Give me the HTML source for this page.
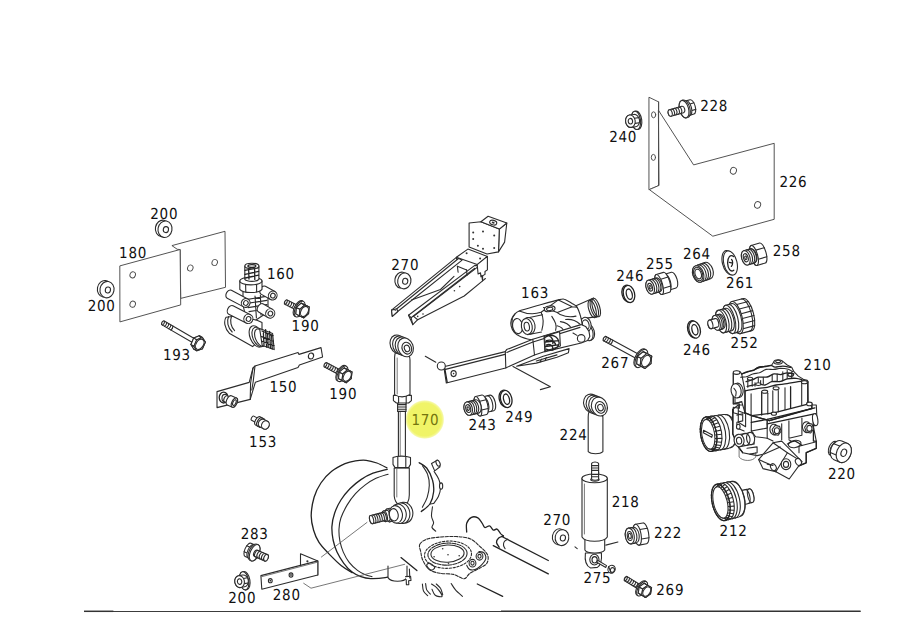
<!DOCTYPE html>
<html lang="en">
<head>
<meta charset="utf-8">
<title>Parts diagram</title>
<style>
html,body{margin:0;padding:0;background:#fff;}
body{width:900px;height:637px;overflow:hidden;}
svg{display:block;}
.p{fill:none;stroke:#2c2c2c;stroke-width:1.1;stroke-linecap:round;stroke-linejoin:round;}
.w{fill:#fff;stroke:#2c2c2c;stroke-width:1.1;stroke-linecap:round;stroke-linejoin:round;}
.t{fill:none;stroke:#555;stroke-width:0.8;stroke-linecap:round;stroke-linejoin:round;}
.k{fill:none;stroke:#222;stroke-width:1.3;stroke-linecap:round;stroke-linejoin:round;}
.d{fill:#333;stroke:none;}
.pl .w,.pl .p{stroke:#4a4a4a;stroke-width:0.95;}
text{font-family:"DejaVu Sans","Liberation Sans",sans-serif;font-size:15px;letter-spacing:0.8px;text-rendering:geometricPrecision;fill:#111;}
</style>
</head>
<body>
<svg width="900" height="637" viewBox="0 0 900 637">
<rect width="900" height="637" fill="#fff"/>
<defs><radialGradient id="yg"><stop offset="0" stop-color="#f0f466"/><stop offset="0.84" stop-color="#f0f468"/><stop offset="0.94" stop-color="#f5f8a0"/><stop offset="1" stop-color="#ffffff"/></radialGradient></defs>
<circle cx="424.8" cy="419.5" r="19.6" fill="url(#yg)"/>
<!-- 05_tank -->
<g>
<path class="k" d="M386.9 467.9 C385.3 467.1 380.4 464.3 376.9 463 C373.5 461.8 369.8 460.7 366.2 460.3 C362.7 460 359 460.3 355.5 460.8 C352 461.4 349 462 345 463.7 C341.1 465.5 335.7 468.1 331.7 471.3 C327.6 474.5 323.9 478.6 320.9 483 C318 487.3 315.7 491.9 314.1 497.3 C312.5 502.8 311.3 510.1 311.2 515.6 C311.1 521.1 312.3 525.8 313.6 530.2 C314.9 534.7 316.5 538.5 319 542.4 C321.5 546.3 325 549.7 328.7 553.6 C332.5 557.5 337.5 562.6 341.4 565.8 C345.3 568.9 350.3 571.5 352.1 572.6"/>
<path class="k" d="M387.2 469.3 C384.8 470 377.4 471.5 373 473.2 C368.7 474.9 364.7 477 360.9 479.6 C357 482.2 353.2 485.4 349.9 488.8 C346.6 492.2 343.5 496 340.9 500 C338.3 504.1 336.1 508.8 334.6 513.2 C333.1 517.6 332.1 522.1 331.9 526.6 C331.7 531 332.3 535.7 333.1 540 C334 544.2 335.2 548.2 337 552.1 C338.8 556 341.3 560 343.8 563.3 C346.3 566.7 349.3 569.9 352.1 572.1 C354.9 574.3 357.8 575.6 360.9 576.7 C364 577.8 366.6 578.5 370.6 578.7 C374.7 578.8 380.4 578.5 385.2 577.7 C390 576.9 397 574.7 399.3 574"/>
<path class="p" d="M388.1 474.2 C386 474.9 379.3 476.8 375.5 478.6 C371.7 480.4 368.6 482.4 365.3 484.9 C361.9 487.4 358.5 490.4 355.5 493.7 C352.5 497 349.7 500.8 347.2 504.9 C344.8 509 342.3 514 340.9 518 C339.5 522.1 339.1 525.1 339 529 C338.8 532.9 339.2 537.3 339.9 541.2 C340.7 545 341.8 548.6 343.3 552.1 C344.9 555.7 346.8 559.3 349.2 562.4 C351.5 565.4 354.9 568.4 357.5 570.4 C360.1 572.4 362.3 573.5 364.8 574.5 C367.2 575.6 370.9 576.4 372.1 576.7"/>
<path class="w" d="M388 566 L388 577.6 C391 582.4 404 582.4 407 577.6 L407 566"/>
<path class="w" d="M405.6 576.6 L410.6 576.2 L411 580.4 L408.6 580.8 L408.8 584.6 L406.4 584.8 L406.2 579.6"/>
<line class="k" x1="401" y1="557.6" x2="416.9" y2="570.6"/>
<line class="p" x1="409.4" y1="569" x2="409.8" y2="578"/>
</g>
<!-- 06_leaders -->
<g>
<line class="t" x1="367" y1="522.4" x2="321.4" y2="557"/>
<path class="t" d="M303.7 583.3 L311 588.2 L404.7 564.3"/>
</g>
<!-- 10_bracket226 -->
<g class="pl">
<polygon class="w" points="649.3,97.4 658.6,101.9 658.6,185.6 649.3,189.6"/>
<polygon class="w" points="658.6,110.5 693.6,164.9 774.2,143.3 774.2,219.3 712.8,236.2 649.3,189.6 658.6,185.6"/>
<line class="p" x1="658.6" y1="101.9" x2="658.6" y2="185.6"/>
<ellipse class="w" cx="653.6" cy="114.8" rx="2.1" ry="3"/>
<ellipse class="w" cx="653.4" cy="157.4" rx="2.1" ry="3"/>
<ellipse class="w" cx="733.4" cy="170.8" rx="3" ry="3.4" transform="rotate(20 733.4 170.8)"/>
<ellipse class="w" cx="757.6" cy="204.9" rx="3" ry="3.4" transform="rotate(20 757.6 204.9)"/>
</g>
<!-- 11_plate180 -->
<g class="pl">
<polygon class="w" points="172.3,245.5 225,231.3 225.5,287.3 180.7,298.4 180.2,249.6 177.6,249.3"/>
<polygon class="w" points="120.2,265.8 180.1,249.5 180.7,304.9 120.3,321.8"/>
<ellipse class="w" cx="132.7" cy="274.8" rx="2.7" ry="3.1" transform="rotate(20 132.7 274.8)"/>
<ellipse class="w" cx="132.7" cy="304.2" rx="2.7" ry="3.1" transform="rotate(20 132.7 304.2)"/>
<ellipse class="w" cx="190.3" cy="268" rx="2.7" ry="3.1" transform="rotate(20 190.3 268)"/>
<ellipse class="w" cx="214.7" cy="262.5" rx="2.7" ry="3.1" transform="rotate(20 214.7 262.5)"/>
</g>
<!-- 12_washers -->
<g>
<g>
<ellipse class="w" cx="162.4" cy="228.4" rx="7" ry="8.3" transform="rotate(10 162.4 228.4)"/>
<ellipse class="w" cx="165" cy="229.2" rx="7" ry="8.3" transform="rotate(10 165 229.2)"/>
<ellipse class="w" cx="165.9" cy="229.6" rx="2.6" ry="3" transform="rotate(10 165.9 229.6)"/>
</g>
<g>
<ellipse class="w" cx="104.4" cy="288.8" rx="7" ry="8.3" transform="rotate(10 104.4 288.8)"/>
<ellipse class="w" cx="107" cy="289.6" rx="7" ry="8.3" transform="rotate(10 107 289.6)"/>
<ellipse class="w" cx="107.9" cy="290" rx="2.6" ry="3" transform="rotate(10 107.9 290)"/>
</g>
<g>
<ellipse class="w" cx="401.5" cy="280.1" rx="6.6" ry="8" transform="rotate(10 401.5 280.1)"/>
<ellipse class="w" cx="404.3" cy="280.9" rx="6.6" ry="8" transform="rotate(10 404.3 280.9)"/>
<ellipse class="w" cx="405.2" cy="281.3" rx="2.6" ry="3" transform="rotate(10 405.2 281.3)"/>
</g>
<g>
<ellipse class="w" cx="559.2" cy="536.8" rx="6.8" ry="8" transform="rotate(10 559.2 536.8)"/>
<ellipse class="w" cx="562" cy="537.6" rx="6.8" ry="8" transform="rotate(10 562 537.6)"/>
<ellipse class="w" cx="562.9" cy="538" rx="2.6" ry="3" transform="rotate(10 562.9 538)"/>
</g>
</g>
<!-- 13_bolts -->
<g>
<g transform="translate(162 322.3) rotate(30.2)">
<path class="w" d="M38 -2.2 L0.8 -2.2 Q-0.9 0 0.8 2.2 L38 2.2"/>
<path class="p" d="M1.8 -2.2 Q3 0 1.8 2.2"/>
<path class="p" d="M4.2 -2.2 Q5.4 0 4.2 2.2"/>
<path class="p" d="M6.6 -2.2 Q7.8 0 6.6 2.2"/>
<path class="p" d="M9 -2.2 Q10.2 0 9 2.2"/>
<path class="p" d="M11.4 -2.2 Q12.6 0 11.4 2.2"/>
<polygon class="w" points="44.7,2.5 40.9,7.1 36.2,4.6 35.3,-2.5 39.1,-7.1 43.9,-4.6"/>
<polygon class="w" points="44.7,2.5 40.9,7.1 44.4,7.1 48.2,2.5"/>
<polygon class="w" points="40.9,7.1 36.2,4.6 39.7,4.6 44.4,7.1"/>
<polygon class="w" points="36.2,4.6 35.3,-2.5 38.8,-2.5 39.7,4.6"/>
<polygon class="w" points="35.3,-2.5 39.1,-7.1 42.6,-7.1 38.8,-2.5"/>
<polygon class="w" points="39.1,-7.1 43.9,-4.6 47.4,-4.6 42.6,-7.1"/>
<polygon class="w" points="43.9,-4.6 44.7,2.5 48.2,2.5 47.4,-4.6"/>
<polygon class="w" points="48.2,2.5 44.4,7.1 39.7,4.6 38.8,-2.5 42.6,-7.1 47.4,-4.6"/>
<ellipse class="p" cx="43.7" cy="0" rx="3.6" ry="5.6"/>
</g>
<g transform="translate(284.8 301.6) rotate(26.7)">
<path class="w" d="M15.8 -2.4 L0.8 -2.4 Q-0.9 0 0.8 2.4 L15.8 2.4"/>
<path class="p" d="M1.8 -2.4 Q3 0 1.8 2.4"/>
<path class="p" d="M4.2 -2.4 Q5.4 0 4.2 2.4"/>
<path class="p" d="M6.6 -2.4 Q7.8 0 6.6 2.4"/>
<path class="p" d="M9 -2.4 Q10.2 0 9 2.4"/>
<path class="p" d="M11.4 -2.4 Q12.6 0 11.4 2.4"/>
<path class="p" d="M13.8 -2.4 Q15 0 13.8 2.4"/>
<ellipse class="w" cx="15.4" cy="0" rx="4.3" ry="8.6"/>
<ellipse class="w" cx="16.6" cy="0" rx="4.3" ry="8.6"/>
<polygon class="w" points="22.6,0 20.2,6 15.4,6 13,0 15.4,-6 20.2,-6"/>
<polygon class="w" points="22.6,0 20.2,6 24.2,6 26.6,0"/>
<polygon class="w" points="20.2,6 15.4,6 19.4,6 24.2,6"/>
<polygon class="w" points="15.4,6 13,0 17,0 19.4,6"/>
<polygon class="w" points="13,0 15.4,-6 19.4,-6 17,0"/>
<polygon class="w" points="15.4,-6 20.2,-6 24.2,-6 19.4,-6"/>
<polygon class="w" points="20.2,-6 22.6,0 26.6,0 24.2,-6"/>
<polygon class="w" points="26.6,0 24.2,6 19.4,6 17,0 19.4,-6 24.2,-6"/>
<ellipse class="p" cx="22" cy="0" rx="3.5" ry="5.4"/>
</g>
<g transform="translate(324.4 364.2) rotate(28)">
<path class="w" d="M19.6 -2.4 L0.8 -2.4 Q-0.9 0 0.8 2.4 L19.6 2.4"/>
<path class="p" d="M1.8 -2.4 Q3 0 1.8 2.4"/>
<path class="p" d="M4.2 -2.4 Q5.4 0 4.2 2.4"/>
<path class="p" d="M6.6 -2.4 Q7.8 0 6.6 2.4"/>
<path class="p" d="M9 -2.4 Q10.2 0 9 2.4"/>
<path class="p" d="M11.4 -2.4 Q12.6 0 11.4 2.4"/>
<path class="p" d="M13.8 -2.4 Q15 0 13.8 2.4"/>
<path class="p" d="M16.2 -2.4 Q17.4 0 16.2 2.4"/>
<ellipse class="w" cx="19.2" cy="0" rx="4.3" ry="8.6"/>
<ellipse class="w" cx="20.4" cy="0" rx="4.3" ry="8.6"/>
<polygon class="w" points="26.4,0 24,6 19.2,6 16.8,0 19.2,-6 24,-6"/>
<polygon class="w" points="26.4,0 24,6 28,6 30.4,0"/>
<polygon class="w" points="24,6 19.2,6 23.2,6 28,6"/>
<polygon class="w" points="19.2,6 16.8,0 20.8,0 23.2,6"/>
<polygon class="w" points="16.8,0 19.2,-6 23.2,-6 20.8,0"/>
<polygon class="w" points="19.2,-6 24,-6 28,-6 23.2,-6"/>
<polygon class="w" points="24,-6 26.4,0 30.4,0 28,-6"/>
<polygon class="w" points="30.4,0 28,6 23.2,6 20.8,0 23.2,-6 28,-6"/>
<ellipse class="p" cx="25.8" cy="0" rx="3.5" ry="5.4"/>
</g>
<g transform="translate(603.6 338) rotate(28.5)">
<path class="w" d="M42.2 -2.5 L0.8 -2.5 Q-0.9 0 0.8 2.5 L42.2 2.5"/>
<path class="p" d="M1.8 -2.5 Q3 0 1.8 2.5"/>
<path class="p" d="M4.2 -2.5 Q5.4 0 4.2 2.5"/>
<path class="p" d="M6.6 -2.5 Q7.8 0 6.6 2.5"/>
<path class="p" d="M9 -2.5 Q10.2 0 9 2.5"/>
<ellipse class="w" cx="41.8" cy="0" rx="5" ry="10"/>
<ellipse class="w" cx="43" cy="0" rx="5" ry="10"/>
<polygon class="w" points="49.8,0 47,6.9 41.4,6.9 38.6,0 41.4,-6.9 47,-6.9"/>
<polygon class="w" points="49.8,0 47,6.9 51,6.9 53.8,0"/>
<polygon class="w" points="47,6.9 41.4,6.9 45.4,6.9 51,6.9"/>
<polygon class="w" points="41.4,6.9 38.6,0 42.6,0 45.4,6.9"/>
<polygon class="w" points="38.6,0 41.4,-6.9 45.4,-6.9 42.6,0"/>
<polygon class="w" points="41.4,-6.9 47,-6.9 51,-6.9 45.4,-6.9"/>
<polygon class="w" points="47,-6.9 49.8,0 53.8,0 51,-6.9"/>
<polygon class="w" points="53.8,0 51,6.9 45.4,6.9 42.6,0 45.4,-6.9 51,-6.9"/>
<ellipse class="p" cx="48.4" cy="0" rx="4" ry="6.2"/>
</g>
<g transform="translate(624.8 578) rotate(31.6)">
<path class="w" d="M19.6 -2.4 L0.8 -2.4 Q-0.9 0 0.8 2.4 L19.6 2.4"/>
<path class="p" d="M1.8 -2.4 Q3 0 1.8 2.4"/>
<path class="p" d="M4.2 -2.4 Q5.4 0 4.2 2.4"/>
<path class="p" d="M6.6 -2.4 Q7.8 0 6.6 2.4"/>
<path class="p" d="M9 -2.4 Q10.2 0 9 2.4"/>
<path class="p" d="M11.4 -2.4 Q12.6 0 11.4 2.4"/>
<path class="p" d="M13.8 -2.4 Q15 0 13.8 2.4"/>
<path class="p" d="M16.2 -2.4 Q17.4 0 16.2 2.4"/>
<ellipse class="w" cx="19.2" cy="0" rx="4.1" ry="8.2"/>
<ellipse class="w" cx="20.4" cy="0" rx="4.1" ry="8.2"/>
<polygon class="w" points="26.2,0 23.9,5.7 19.3,5.7 17,0 19.3,-5.7 23.9,-5.7"/>
<polygon class="w" points="26.2,0 23.9,5.7 27.9,5.7 30.2,0"/>
<polygon class="w" points="23.9,5.7 19.3,5.7 23.3,5.7 27.9,5.7"/>
<polygon class="w" points="19.3,5.7 17,0 21,0 23.3,5.7"/>
<polygon class="w" points="17,0 19.3,-5.7 23.3,-5.7 21,0"/>
<polygon class="w" points="19.3,-5.7 23.9,-5.7 27.9,-5.7 23.3,-5.7"/>
<polygon class="w" points="23.9,-5.7 26.2,0 30.2,0 27.9,-5.7"/>
<polygon class="w" points="30.2,0 27.9,5.7 23.3,5.7 21,0 23.3,-5.7 27.9,-5.7"/>
<ellipse class="p" cx="25.8" cy="0" rx="3.3" ry="5.1"/>
</g>
</g>
<!-- 14_bracket150 -->
<g>
<polygon class="w" points="217,391.6 249.2,382.4 253,368 255,366 298,352.4 299,354.4 321,347.6 322.6,357 299.4,365 298,367.6 255.4,382.2 250.2,399.4 217,407.6"/>
<path class="p" d="M253 368 L250.6 383 L250.2 399.4"/>
<path class="p" d="M255 366 L253.2 381.5 L251.8 390"/>
<ellipse class="w" cx="311" cy="356" rx="2.6" ry="3" transform="rotate(15 311 356)"/>
<ellipse class="k" cx="223.6" cy="397.6" rx="4.4" ry="5.4" style="fill:#fff"/>
<ellipse class="w" cx="225" cy="398.2" rx="3" ry="3.8"/>
<g transform="translate(234.4 402.6) rotate(204)">
<path class="w" d="M9.5 -3.2 A1.6 3.2 0 0 1 9.5 3.2 L6 3.2 A1.6 3.2 0 0 1 6 -3.2 Z"/>
<ellipse class="w" cx="6" cy="0" rx="1.6" ry="3.2"/>
<path class="w" d="M5.6 -5 A2.5 5 0 0 1 5.6 5 L0 5 A2.5 5 0 0 1 0 -5 Z"/>
<ellipse class="w" cx="0" cy="0" rx="2.5" ry="5"/>
<ellipse class="w" cx="0" cy="0" rx="1.5" ry="3"/>
</g>
</g>
<!-- 15_stud153 -->
<g>
<g transform="translate(265.4 425) rotate(208)">
<path class="w" d="M14.4 -2.4 A1.2 2.4 0 0 1 14.4 2.4 L9.6 2.4 A1.2 2.4 0 0 1 9.6 -2.4 Z"/>
<ellipse class="w" cx="9.6" cy="0" rx="1.2" ry="2.4"/>
<path class="w" d="M8.6 -4.7 A2.4 4.7 0 0 1 8.6 4.7 L4.4 4.7 A2.4 4.7 0 0 1 4.4 -4.7 Z"/>
<path class="p" d="M6.4 -4.7 A2.4 4.7 0 0 1 6.4 4.7"/>
<ellipse class="w" cx="4.4" cy="0" rx="2.4" ry="4.7"/>
<path class="w" d="M3.6 -4.3 A3.7 4.3 0 0 1 3.6 4.3 L0 4.3 A3.7 4.3 0 0 1 0 -4.3 Z"/>
<ellipse class="w" cx="0" cy="0" rx="3.7" ry="4.3"/>
</g>
</g>
<!-- 20_valve160 -->
<g>
<path class="w" d="M226.0 317.2 C223.6 321 224.4 328.6 229.6 333.6 L252.6 346.6 L262 338 L262 322.6 L246 315 Z"/>
<path class="p" d="M228.6 316.6 C226.6 321 227.6 327.6 232.2 332.0"/>
<path class="p" d="M231.4 316.8 C229.8 321 230.8 327 234.6 330.6"/>
<ellipse class="w" cx="256.4" cy="336.4" rx="6.4" ry="11.2" transform="rotate(-22 256.4 336.4)"/>
<ellipse class="w" cx="258.4" cy="337" rx="5.6" ry="10.2" transform="rotate(-22 258.4 337)"/>
<ellipse class="w" cx="260.2" cy="337.6" rx="4.8" ry="9.2" transform="rotate(-22 260.2 337.6)"/>
<path class="w" d="M259.6 328.4 L272.6 333.6 L274.2 349.6 L262.2 345.4 Z"/>
<path class="k" d="M262 331 L273 335.6 M261.6 336.6 L273.4 341 M262 341.4 L274 345.6 M265.6 329.6 L266.6 347 M269.6 331.4 L270.4 348.4 M263.4 333 L264 345.4 M267.6 334 L268.2 346.8 M271.6 335 L272.2 349"/>
<path class="w" d="M243 291 L262 291 L268 297 L268 312 L256 320 L246 318 L243 305 Z"/>
<path class="p" d="M246 299.6 L266 296.4 M247 303.4 L267 300.4 M248 307.6 L267 304.6 M249 311.6 L266 308.8 M255 296 L256.4 318 M260.4 295 L261 315"/>
<g transform="translate(263.2 290.2) rotate(29.2)">
<path class="w" d="M10.9 -4.5 L0 -4.5 A3.1 4.5 0 0 0 0 4.5 L10.9 4.5"/>
<ellipse class="w" cx="10.9" cy="0" rx="4.3" ry="4.5"/>
<ellipse class="w" cx="11.1" cy="0" rx="2.3" ry="2.4"/>
</g>
<g transform="translate(261 308) rotate(30.4)">
<path class="w" d="M10.7 -4.7 L0 -4.7 A3.3 4.7 0 0 0 0 4.7 L10.7 4.7"/>
<ellipse class="w" cx="10.7" cy="0" rx="4.5" ry="4.7"/>
<ellipse class="w" cx="10.9" cy="0" rx="2.3" ry="2.4"/>
</g>
<g transform="translate(229.3 294.3) rotate(27.7)">
<path class="w" d="M18.5 -4.5 L0 -4.5 A3.1 4.5 0 0 0 0 4.5 L18.5 4.5"/>
<ellipse class="w" cx="18.5" cy="0" rx="4.3" ry="4.5"/>
<ellipse class="w" cx="18.7" cy="0" rx="2.3" ry="2.4"/>
</g>
<g transform="translate(230.9 310) rotate(27)">
<path class="w" d="M19.6 -4.7 L0 -4.7 A3.3 4.7 0 0 0 0 4.7 L19.6 4.7"/>
<ellipse class="w" cx="19.6" cy="0" rx="4.5" ry="4.7"/>
<ellipse class="w" cx="19.8" cy="0" rx="2.3" ry="2.4"/>
</g>
<path class="w" d="M239.8 281 L239.8 289.4 C243 293.6 258.6 293.6 262 289.4 L262 281 Z"/>
<path class="p" d="M245.6 284.4 L245.8 292 M256.6 284.4 L256.6 292"/>
<ellipse class="w" cx="250.9" cy="281" rx="11.1" ry="3.9"/>
<path class="w" d="M244.8 266 L244.8 279.4 C247 282 257 282 258.9 279.4 L258.9 266 Z"/>
<path class="k" d="M245 270.4 L258.6 267.6 M245 274.4 L258.6 271.4 M245.2 278 L258.6 275.2 M248.6 268 L249 279 M254.6 268 L254.8 279.6"/>
<ellipse class="w" cx="251.9" cy="266" rx="7" ry="2.7"/>
<ellipse class="k" cx="251.9" cy="266" rx="4" ry="1.4"/>
</g>
<!-- 30_arm -->
<g>
<polygon class="w" points="391.5,310.1 456.4,257.4 462.1,260.1 397.7,311.5 392.3,316.4"/>
<polygon class="w" points="391.5,310.1 392.3,316.4 397.7,311.5 396.8,308.7"/>
<line class="p" x1="396.8" y1="308.7" x2="458.5" y2="258.5"/>
<circle class="d" cx="395.2" cy="310.3" r="0.7"/>
<polygon class="w" points="408.5,315.2 474.8,265.4 482.6,266.2 482.6,280.9 464.2,296 417.7,319.7 412.8,324.6"/>
<line class="p" x1="413.6" y1="316.4" x2="477.2" y2="267.4"/>
<line class="p" x1="417.7" y1="319.7" x2="413.6" y2="316.4"/>
<line class="p" x1="412.8" y1="324.6" x2="411.1" y2="317.7"/>
<line class="p" x1="411.1" y1="317.7" x2="408.5" y2="315.2"/>
<line class="p" x1="411.1" y1="317.7" x2="474.8" y2="268.3"/>
<path class="p" d="M411.5 300.1 L440.5 289.5 L454 276.4"/>
<line class="p" x1="457.4" y1="266.2" x2="466.6" y2="269.9"/>
<line class="p" x1="457.4" y1="266.2" x2="458.1" y2="272.3"/>
<line class="p" x1="466.6" y1="269.9" x2="467" y2="275.4"/>
<circle class="d" cx="417.7" cy="316.4" r="0.8"/>
<circle class="d" cx="423" cy="314" r="0.8"/>
<circle class="d" cx="454.4" cy="290.7" r="0.8"/>
<circle class="d" cx="459.7" cy="286.6" r="0.8"/>
<polygon class="w" points="456.4,257.2 467.9,249.1 487.4,256.4 477.2,264.6"/>
<polygon class="w" points="477.2,264.6 487.4,256.4 487.4,269.9 485,271.5 485,274.4 480.9,276.8 480.5,272.8 478.1,274"/>
<line class="p" x1="456.4" y1="257.2" x2="456.6" y2="259.3"/>
<path class="p" d="M481.7 275.4 L482.6 280.9 L485.4 278.5"/>
<circle class="d" cx="466.6" cy="253.2" r="1"/>
<circle class="d" cx="480.1" cy="258.5" r="1"/>
<polygon class="w" points="506.8,223 504.6,242.1 498.5,251.9 499.3,229.1"/>
<polygon class="w" points="469.1,223 480.9,221.7 499.3,229.1 498.5,251.9 487,254 469.1,247"/>
<polygon class="w" points="480.9,221.7 488.1,216.2 506.8,223 499.3,229.1"/>
<ellipse class="w" cx="493.2" cy="222.6" rx="3.6" ry="2.3" transform="rotate(15 493.2 222.6)"/>
<ellipse class="d" cx="493.2" cy="222.6" rx="1.5" ry="1" transform="rotate(15 493.2 222.6)"/>
<circle class="d" cx="473.2" cy="232.6" r="1"/>
<circle class="d" cx="483" cy="231.5" r="1"/>
<circle class="d" cx="494.2" cy="235.6" r="1"/>
<circle class="d" cx="473.2" cy="238.9" r="1"/>
<circle class="d" cx="477.9" cy="245.8" r="1"/>
<circle class="d" cx="483" cy="248.7" r="1"/>
<circle class="d" cx="494.2" cy="247.9" r="1"/>
</g>
<!-- 31_rod170_top -->
<g>
<path class="w" d="M398.4 408 L398.4 458 L405.4 458 L405.4 408 Z"/>
<line class="t" x1="400.2" y1="410" x2="400.2" y2="457"/>
<path class="w" d="M397.6 402 L397.6 411.4 L406 411.4 L406 402 Z"/>
<path class="p" d="M397.6 404.6 L406 404.6 M397.6 407 L406 407 M397.6 409.2 L406 409.2"/>
<path class="w" d="M393.4 395.4 L393.4 400.6 L396.4 403 L408.6 403 L411.4 400.6 L411.4 395.4 Z"/>
<path class="p" d="M398.6 396 L398.6 403 M406.2 396 L406.2 403"/>
<path class="w" d="M394.6 357 C394.6 352 397 350 399 349 L406 352 C409 354 410 357 410 360 L410 394.6 C405 397.4 399 397.4 394.6 394.6 Z"/>
<line class="t" x1="397.2" y1="358" x2="397.2" y2="394"/>
<g>
<ellipse class="w" cx="397.8" cy="344.4" rx="7.6" ry="9.6" transform="rotate(-20 397.8 344.4)"/>
<ellipse class="w" cx="400.4" cy="345.4" rx="7.6" ry="9.6" transform="rotate(-20 400.4 345.4)"/>
<ellipse class="w" cx="403" cy="346.4" rx="7.6" ry="9.6" transform="rotate(-20 403 346.4)"/>
<ellipse class="w" cx="405.6" cy="347.4" rx="7.6" ry="9.6" transform="rotate(-20 405.6 347.4)"/>
<ellipse class="w" cx="406.8" cy="348.2" rx="4.7" ry="6" transform="rotate(-20 406.8 348.2)"/>
<ellipse class="w" cx="407" cy="348.4" rx="2.6" ry="3.3" transform="rotate(-20 407 348.4)"/>
</g>
</g>
<!-- 40_valve163 -->
<g>
<path class="w" d="M 574.3 306.4 L 593.6 298.1 L 598.8 316.4 L 581.2 318.9 Z"/>
<ellipse class="w" cx="596.2" cy="307.5" rx="3.5" ry="9.6" transform="rotate(-17 596.2 307.5)"/>
<ellipse class="p" cx="594.3" cy="308.1" rx="3.4" ry="9.4" transform="rotate(-17 594.3 308.1)"/>
<ellipse class="p" cx="592.2" cy="309" rx="3.4" ry="9" transform="rotate(-17 592.2 309)"/>
<ellipse class="w" cx="589.1" cy="332" rx="5.2" ry="8.4" transform="rotate(-15 589.1 332)"/>
<ellipse class="w" cx="587.7" cy="332.5" rx="5.2" ry="8.4" transform="rotate(-15 587.7 332.5)"/>
<ellipse class="w" cx="585.8" cy="324.4" rx="5.2" ry="7.2" transform="rotate(-15 585.8 324.4)"/>
<ellipse class="w" cx="585.8" cy="324.6" rx="3.2" ry="4.8" transform="rotate(-15 585.8 324.6)"/>
<path class="w" d="M511.1 325.8 C510.7 324.2 511 320.9 511.4 319.5 C511.8 318.2 513.9 315 514.9 314 C515.8 313 516.4 312 519.3 310.9 C522.2 309.9 535.2 306.3 539.7 305 C544.3 303.7 555.5 300.5 558.4 299.9 C561.2 299.2 562.6 298.7 564.2 299.2 C565.9 299.6 571 302.7 572.5 303.7 C574 304.6 576.1 305.7 577 307.1 C578 308.6 579.9 314 580.5 316.1 C581.1 318.2 582.1 323.7 582.2 325.1 C582.3 326.5 584.1 327.1 581.2 328.2 C578.2 329.3 562.6 333.1 557 334.4 C551.4 335.7 537 339.3 532.8 339.6 C528.6 339.9 522.9 337.6 520.7 336.8 C518.6 336 515.6 334 514.5 332.7 C513.4 331.4 511.4 327.3 511.1 325.8 Z"/>
<path class="p" d="M 519.3 310.9 C 525.9 313.7 534.5 314.4 541.1 312.3 L 558.4 299.9"/>
<path class="p" d="M 558.4 299.9 L 572.2 306.8 L 577 307.1 M 572.2 306.8 L 557.3 312.6 L 543.5 307.5"/>
<path class="p" d="M 557.3 312.6 C 560.8 316.1 569.1 317.8 576 316.1"/>
<path class="p" d="M 541.1 312.3 C 543.5 317.5 543.5 324.7 541.8 330.3"/>
<path class="p" d="M 551.8 316.4 C 555.6 322.3 557 325.1 555.6 330.3"/>
<path class="p" d="M 565.6 319.5 C 570.8 318.9 576 320.6 579.8 324 M 560.4 321.6 C 565.6 322.3 569.1 324.4 571.5 328.2 M 557 325.8 C 560.4 326.5 563.2 328.5 564.2 332"/>
<path class="p" d="M 514.9 314 C 511.4 317.8 510.7 325.1 514.5 332.3"/>
<path class="p" d="M 525.9 318.2 L 542.5 314.7 M 527.6 334.7 L 541.5 332"/>
<ellipse class="w" cx="549.7" cy="308.8" rx="5.4" ry="2.8" transform="rotate(-8 549.7 308.8)"/>
<ellipse class="w" cx="549.7" cy="309" rx="3.2" ry="1.6" transform="rotate(-8 549.7 309)"/>
<ellipse class="w" cx="517.6" cy="326.1" rx="5" ry="7.6" transform="rotate(-10 517.6 326.1)"/>
<ellipse class="w" cx="529" cy="325.8" rx="6" ry="8.4" transform="rotate(-10 529 325.8)"/>
<ellipse class="w" cx="526.8" cy="326.5" rx="5.4" ry="8" transform="rotate(-10 526.8 326.5)"/>
<ellipse class="w" cx="526.8" cy="326.6" rx="2.6" ry="4.4" transform="rotate(-10 526.8 326.6)"/>
</g>
<!-- 41_lever -->
<g>
<path class="w" d="M 516.6 366.2 L 543.2 356.2 L 569.1 348.6 L 568.4 352.7 L 557 357.2 L 536.3 363.1 Z"/>
<path class="p" d="M 536.3 361 L 557 354.9 M 540.1 362 L 541.5 359.3 M 545.3 360.3 L 546.3 357.5"/>
<polygon class="w" points="443.8,366.7 505.3,351.6 506.6,349.6 532.8,339.2 581,324.6 585.6,326.4 589,331.4 589.8,336.4 587.6,340.6 581.2,343 544.9,351.6 534.5,355 505.6,368 446.3,383"/>
<path class="p" d="M505.3 351.6 L505.8 368 M532.8 339.2 L534.5 355 M544 335.8 L544.9 351.6"/>
<path class="p" d="M445.4 369.4 L505 354.4 M506.8 352.4 L533 342 L580 327.4"/>
<path class="k" d="M444.6 367.6 L447.2 382.4"/>
<ellipse class="w" cx="453.6" cy="373.6" rx="2.6" ry="3"/>
<circle class="d" cx="453.6" cy="373.6" r="0.8"/>
<circle class="w" cx="581.2" cy="338.4" r="3.8"/>
<path class="p" d="M573 333 L577 335.4"/>
<path class="w" d="M 544.6 336.1 L 559.6 331.6 L 560.4 346.1 L 545.3 351.3 Z"/>
<path class="k" d="M 545.3 337.2 C 551.8 332.7 558.4 336.8 559.1 343 C 558.7 348.2 551.8 352 546.3 349.2 M 546.3 340.6 C 551.8 338.9 555.3 342 555.6 345.4 M 546.6 344.8 C 550.9 343.7 553.5 346.3 552.7 349.6 M 548.7 335.4 C 551.8 337.2 553.5 340.3 552.8 343.7 M 545.3 342 L 558.7 340.6 M 545.6 346.5 L 558 344.8"/>
<circle class="w" cx="441.3" cy="366" r="4"/>
<line class="p" x1="425.3" y1="356.3" x2="435.8" y2="362.2"/>
<path class="p" d="M513 366.4 L550.4 386.8 L540.4 389.6"/>
</g>
<!-- 50_fittings -->
<g>
<g transform="translate(468.2 408.6) rotate(-13.5)">
<path class="w" d="M24.4 -8 A3.4 8 0 0 1 24.4 8 L17.4 8 A3.4 8 0 0 1 17.4 -8 Z"/>
<path class="p" d="M21.5 -8 A3.4 8 0 0 1 21.5 8"/>
<ellipse class="w" cx="17.4" cy="0" rx="3.4" ry="8"/>
<path class="w" d="M16.6 -10 A3.2 10 0 0 1 16.6 10 L10 10 A3.2 10 0 0 1 10 -10 Z"/>
<line class="p" x1="12.9" y1="-4.4" x2="19.5" y2="-4.4"/>
<line class="p" x1="12.8" y1="4.6" x2="19.4" y2="4.6"/>
<ellipse class="w" cx="10" cy="0" rx="3.2" ry="10"/>
<path class="w" d="M9 -6.8 A4.1 6.8 0 0 1 9 6.8 L0 6.8 A4.1 6.8 0 0 1 0 -6.8 Z"/>
<path class="p" d="M2.2 -6.8 A4.1 6.8 0 0 1 2.2 6.8"/>
<path class="p" d="M4.4 -6.8 A4.1 6.8 0 0 1 4.4 6.8"/>
<path class="p" d="M6.4 -6.8 A4.1 6.8 0 0 1 6.4 6.8"/>
<ellipse class="w" cx="0" cy="0" rx="4.1" ry="6.8"/>
<ellipse class="w" cx="0" cy="0" rx="2.4" ry="4"/>
<ellipse class="w" cx="0" cy="0" rx="1.1" ry="1.8"/>
</g>
<g>
<ellipse class="k" cx="504.9" cy="398.7" rx="5.6" ry="8.7" transform="rotate(-14 504.9 398.7)" style="fill:#fff"/>
<ellipse class="k" cx="506.2" cy="399" rx="5.6" ry="8.7" transform="rotate(-14 506.2 399)" style="fill:#fff"/>
<ellipse class="k" cx="506.5" cy="399.2" rx="2.9" ry="5.3" transform="rotate(-14 506.5 399.2)" style="fill:#fff"/>
</g>
<g>
<ellipse class="k" cx="627.7" cy="293.7" rx="5.6" ry="8.7" transform="rotate(-14 627.7 293.7)" style="fill:#fff"/>
<ellipse class="k" cx="629" cy="294" rx="5.6" ry="8.7" transform="rotate(-14 629 294)" style="fill:#fff"/>
<ellipse class="k" cx="629.3" cy="294.2" rx="2.9" ry="5.3" transform="rotate(-14 629.3 294.2)" style="fill:#fff"/>
</g>
<g>
<ellipse class="k" cx="693.3" cy="329.3" rx="5.6" ry="8.7" transform="rotate(-14 693.3 329.3)" style="fill:#fff"/>
<ellipse class="k" cx="694.6" cy="329.6" rx="5.6" ry="8.7" transform="rotate(-14 694.6 329.6)" style="fill:#fff"/>
<ellipse class="k" cx="694.9" cy="329.8" rx="2.9" ry="5.3" transform="rotate(-14 694.9 329.8)" style="fill:#fff"/>
</g>
<g transform="translate(650.2 287.2) rotate(-16.7)">
<path class="w" d="M24.6 -8.2 A3.4 8.2 0 0 1 24.6 8.2 L17.6 8.2 A3.4 8.2 0 0 1 17.6 -8.2 Z"/>
<ellipse class="w" cx="17.6" cy="0" rx="3.4" ry="8.2"/>
<path class="w" d="M17 -10.4 A3.3 10.4 0 0 1 17 10.4 L9.4 10.4 A3.3 10.4 0 0 1 9.4 -10.4 Z"/>
<line class="p" x1="12.4" y1="-4.6" x2="20" y2="-4.6"/>
<line class="p" x1="12.4" y1="4.8" x2="20" y2="4.8"/>
<ellipse class="w" cx="9.4" cy="0" rx="3.3" ry="10.4"/>
<path class="w" d="M8 -7.2 A4 7.2 0 0 1 8 7.2 L0 7.2 A4 7.2 0 0 1 0 -7.2 Z"/>
<path class="p" d="M2.4 -7.2 A4 7.2 0 0 1 2.4 7.2"/>
<path class="p" d="M4.6 -7.2 A4 7.2 0 0 1 4.6 7.2"/>
<path class="p" d="M6.6 -7.2 A4 7.2 0 0 1 6.6 7.2"/>
<ellipse class="w" cx="0" cy="0" rx="4" ry="7.2"/>
<ellipse class="w" cx="0" cy="0" rx="2.2" ry="4"/>
<ellipse class="w" cx="0" cy="0" rx="1" ry="1.8"/>
</g>
<g transform="translate(745.8 257.8) rotate(-16)">
<path class="w" d="M17.4 -10.4 A3.5 10.4 0 0 1 17.4 10.4 L8.6 10.4 A3.5 10.4 0 0 1 8.6 -10.4 Z"/>
<line class="p" x1="11.8" y1="-4.6" x2="20.6" y2="-4.6"/>
<line class="p" x1="11.7" y1="4.8" x2="20.5" y2="4.8"/>
<ellipse class="w" cx="8.6" cy="0" rx="3.5" ry="10.4"/>
<path class="w" d="M7 -7.4 A4.1 7.4 0 0 1 7 7.4 L0 7.4 A4.1 7.4 0 0 1 0 -7.4 Z"/>
<path class="p" d="M2.4 -7.4 A4.1 7.4 0 0 1 2.4 7.4"/>
<path class="p" d="M4.6 -7.4 A4.1 7.4 0 0 1 4.6 7.4"/>
<path class="p" d="M6.4 -7.4 A4.1 7.4 0 0 1 6.4 7.4"/>
<ellipse class="w" cx="0" cy="0" rx="4.1" ry="7.4"/>
<ellipse class="w" cx="0" cy="0" rx="2.3" ry="4.2"/>
<ellipse class="w" cx="0" cy="0" rx="1" ry="1.8"/>
</g>
<g transform="translate(698.2 274) rotate(-20)">
<path class="w" d="M10 -8.6 A5.3 8.6 0 0 1 10 8.6 L0 8.6 A5.3 8.6 0 0 1 0 -8.6 Z"/>
<path class="p" d="M2.4 -8.6 A5.3 8.6 0 0 1 2.4 8.6"/>
<path class="p" d="M4.8 -8.6 A5.3 8.6 0 0 1 4.8 8.6"/>
<path class="p" d="M7.2 -8.6 A5.3 8.6 0 0 1 7.2 8.6"/>
<ellipse class="w" cx="0" cy="0" rx="5.3" ry="8.6"/>
<ellipse class="w" cx="0" cy="0" rx="4.3" ry="7"/>
<ellipse class="w" cx="0" cy="0" rx="3.1" ry="5"/>
</g>
<ellipse class="w" cx="729" cy="262.6" rx="6.6" ry="12.4" transform="rotate(-14 729 262.6)"/>
<ellipse class="w" cx="730.4" cy="263" rx="6.6" ry="12.4" transform="rotate(-14 730.4 263)"/>
<path class="k" d="M733.6 256.6 C730.6 253.6 727.4 257.6 727.6 263 C727.8 268.6 730.6 272.6 733.8 270.2 M731.6 259.4 C733 260.6 733 264.6 731.4 266.4 M729.4 262.4 L731.6 262.8"/>
<g transform="translate(710.4 324.4) rotate(-14.8)">
<path class="w" d="M38.5 -16.6 A6 16.6 0 0 1 38.5 16.6 L26.6 16.6 A6 16.6 0 0 1 26.6 -16.6 Z"/>
<line class="p" x1="30.5" y1="-12.5" x2="42.4" y2="-12.5"/>
<line class="p" x1="31.9" y1="-7.5" x2="43.8" y2="-7.5"/>
<line class="p" x1="32.5" y1="-2.5" x2="44.4" y2="-2.5"/>
<line class="p" x1="32.5" y1="2.5" x2="44.4" y2="2.5"/>
<line class="p" x1="31.9" y1="7.5" x2="43.8" y2="7.5"/>
<line class="p" x1="30.5" y1="12.5" x2="42.4" y2="12.5"/>
<path class="p" d="M36.4 -16.6 A6 16.6 0 0 1 36.4 16.6"/>
<ellipse class="w" cx="26.6" cy="0" rx="6" ry="16.6"/>
<path class="w" d="M26 -14.6 A5.5 14.6 0 0 1 26 14.6 L19.6 14.6 A5.5 14.6 0 0 1 19.6 -14.6 Z"/>
<path class="p" d="M22.6 -14.6 A5.5 14.6 0 0 1 22.6 14.6"/>
<ellipse class="w" cx="19.6" cy="0" rx="5.5" ry="14.6"/>
<path class="w" d="M19 -11.6 A4.9 11.6 0 0 1 19 11.6 L11 11.6 A4.9 11.6 0 0 1 11 -11.6 Z"/>
<path class="p" d="M13.6 -11.6 A4.9 11.6 0 0 1 13.6 11.6"/>
<path class="p" d="M16.4 -11.6 A4.9 11.6 0 0 1 16.4 11.6"/>
<ellipse class="w" cx="11" cy="0" rx="4.9" ry="11.6"/>
<path class="w" d="M11 -7.6 A3.8 7.6 0 0 1 11 7.6 L6 7.6 A3.8 7.6 0 0 1 6 -7.6 Z"/>
<path class="p" d="M8 -7.6 A3.8 7.6 0 0 1 8 7.6"/>
<path class="p" d="M9.6 -7.6 A3.8 7.6 0 0 1 9.6 7.6"/>
<ellipse class="w" cx="6" cy="0" rx="3.8" ry="7.6"/>
<path class="w" d="M6 -4.4 A2.4 4.4 0 0 1 6 4.4 L0 4.4 A2.4 4.4 0 0 1 0 -4.4 Z"/>
<ellipse class="w" cx="0" cy="0" rx="2.4" ry="4.4"/>
</g>
</g>
<!-- 51_nuts -->
<g>
<g transform="translate(843.8 452.8) rotate(202.6)">
<path class="w" d="M11.4 -7.4 A4.4 7.4 0 0 1 11.4 7.4 L8 7.4 A4.4 7.4 0 0 1 8 -7.4 Z"/>
<path class="p" d="M9.6 -7.4 A4.4 7.4 0 0 1 9.6 7.4"/>
<ellipse class="w" cx="8" cy="0" rx="4.4" ry="7.4"/>
<path class="w" d="M6.4 -10.2 A7.1 10.2 0 0 1 6.4 10.2 L0 10.2 A7.1 10.2 0 0 1 0 -10.2 Z"/>
<line class="p" x1="6.2" y1="-5" x2="12.6" y2="-5"/>
<line class="p" x1="6.4" y1="4.6" x2="12.8" y2="4.6"/>
<ellipse class="w" cx="0" cy="0" rx="7.1" ry="10.2"/>
<ellipse class="w" cx="0" cy="0" rx="2.7" ry="3.8"/>
</g>
<g transform="translate(629.8 536) rotate(-10)">
<path class="w" d="M15.2 -10.6 A3.8 10.6 0 0 1 15.2 10.6 L7.6 10.6 A3.8 10.6 0 0 1 7.6 -10.6 Z"/>
<line class="p" x1="11" y1="-4.6" x2="18.6" y2="-4.6"/>
<line class="p" x1="11" y1="5" x2="18.6" y2="5"/>
<ellipse class="w" cx="7.6" cy="0" rx="3.8" ry="10.6"/>
<path class="w" d="M5 -8 A4.4 8 0 0 1 5 8 L0 8 A4.4 8 0 0 1 0 -8 Z"/>
<path class="p" d="M2.6 -8 A4.4 8 0 0 1 2.6 8"/>
<ellipse class="w" cx="0" cy="0" rx="4.4" ry="8"/>
<ellipse class="w" cx="0" cy="0" rx="2.5" ry="4.6"/>
<ellipse class="w" cx="0" cy="0" rx="1.4" ry="2.6"/>
</g>
<g transform="translate(630.4 121.2) rotate(-8)">
<path class="w" d="M6.8 -9.2 A4.6 9.2 0 0 1 6.8 9.2 L5.6 9.2 A4.6 9.2 0 0 1 5.6 -9.2 Z"/>
<ellipse class="w" cx="5.6" cy="0" rx="4.6" ry="9.2"/>
<path class="w" d="M4.4 -6.2 A4.8 6.2 0 0 1 4.4 6.2 L0 6.2 A4.8 6.2 0 0 1 0 -6.2 Z"/>
<line class="p" x1="4.5" y1="-2.4" x2="8.9" y2="-2.4"/>
<line class="p" x1="4.3" y1="2.8" x2="8.7" y2="2.8"/>
<ellipse class="w" cx="0" cy="0" rx="4.8" ry="6.2"/>
<ellipse class="w" cx="0" cy="0" rx="2.2" ry="2.8"/>
</g>
<g transform="translate(239.6 581.6) rotate(-10)">
<path class="w" d="M5.8 -9.2 A4.6 9.2 0 0 1 5.8 9.2 L4.6 9.2 A4.6 9.2 0 0 1 4.6 -9.2 Z"/>
<ellipse class="w" cx="4.6" cy="0" rx="4.6" ry="9.2"/>
<path class="w" d="M4 -6 A4.8 6 0 0 1 4 6 L0 6 A4.8 6 0 0 1 0 -6 Z"/>
<line class="p" x1="4.4" y1="-2.4" x2="8.4" y2="-2.4"/>
<line class="p" x1="4.2" y1="2.8" x2="8.2" y2="2.8"/>
<ellipse class="w" cx="0" cy="0" rx="4.8" ry="6"/>
<ellipse class="w" cx="0" cy="0" rx="2.2" ry="2.8"/>
</g>
<g transform="translate(670.2 113) rotate(-15.6)">
<path class="w" d="M22.6 -7.4 A3.3 7.4 0 0 1 22.6 7.4 L18.6 7.4 A3.3 7.4 0 0 1 18.6 -7.4 Z"/>
<line class="p" x1="21.6" y1="-3.4" x2="25.6" y2="-3.4"/>
<line class="p" x1="21.6" y1="3.4" x2="25.6" y2="3.4"/>
<ellipse class="w" cx="18.6" cy="0" rx="3.3" ry="7.4"/>
<path class="w" d="M15.8 -9 A4.5 9 0 0 1 15.8 9 L14.4 9 A4.5 9 0 0 1 14.4 -9 Z"/>
<ellipse class="w" cx="14.4" cy="0" rx="4.5" ry="9"/>
<path class="w" d="M13 -3.3 A2 3.3 0 0 1 13 3.3 L0 3.3 A2 3.3 0 0 1 0 -3.3 Z"/>
<path class="p" d="M2.4 -3.3 A2 3.3 0 0 1 2.4 3.3"/>
<path class="p" d="M4.9 -3.3 A2 3.3 0 0 1 4.9 3.3"/>
<path class="p" d="M7.4 -3.3 A2 3.3 0 0 1 7.4 3.3"/>
<path class="p" d="M9.9 -3.3 A2 3.3 0 0 1 9.9 3.3"/>
<ellipse class="w" cx="0" cy="0" rx="2" ry="3.3"/>
</g>
<g transform="translate(266 557.8) rotate(203.8)">
<path class="w" d="M19.6 -7.2 A3.2 7.2 0 0 1 19.6 7.2 L16.4 7.2 A3.2 7.2 0 0 1 16.4 -7.2 Z"/>
<line class="p" x1="19.3" y1="-3.2" x2="22.5" y2="-3.2"/>
<line class="p" x1="19.3" y1="3.2" x2="22.5" y2="3.2"/>
<ellipse class="w" cx="16.4" cy="0" rx="3.2" ry="7.2"/>
<path class="w" d="M13.8 -8.8 A4.4 8.8 0 0 1 13.8 8.8 L12.4 8.8 A4.4 8.8 0 0 1 12.4 -8.8 Z"/>
<ellipse class="w" cx="12.4" cy="0" rx="4.4" ry="8.8"/>
<path class="w" d="M11 -3.5 A2.1 3.5 0 0 1 11 3.5 L0 3.5 A2.1 3.5 0 0 1 0 -3.5 Z"/>
<path class="p" d="M2.4 -3.5 A2.1 3.5 0 0 1 2.4 3.5"/>
<path class="p" d="M4.9 -3.5 A2.1 3.5 0 0 1 4.9 3.5"/>
<path class="p" d="M7.4 -3.5 A2.1 3.5 0 0 1 7.4 3.5"/>
<path class="p" d="M9.9 -3.5 A2.1 3.5 0 0 1 9.9 3.5"/>
<ellipse class="w" cx="0" cy="0" rx="2.1" ry="3.5"/>
</g>
</g>
<!-- 60_shock -->
<g>
<path class="w" d="M588.2 417 C588.2 412 590 409 592.6 407.4 L599.6 410.6 C602 412.6 602.9 414.6 602.9 417.4 L602.9 451.6 C600 454.4 591.2 454.4 588.2 451.6 Z"/>
<g>
<ellipse class="w" cx="591.6" cy="403.6" rx="7.8" ry="9.6" transform="rotate(-20 591.6 403.6)"/>
<ellipse class="w" cx="594.2" cy="404.6" rx="7.8" ry="9.6" transform="rotate(-20 594.2 404.6)"/>
<ellipse class="w" cx="596.8" cy="405.6" rx="7.8" ry="9.6" transform="rotate(-20 596.8 405.6)"/>
<ellipse class="w" cx="599.4" cy="406.6" rx="7.8" ry="9.6" transform="rotate(-20 599.4 406.6)"/>
<ellipse class="w" cx="600.3" cy="407.4" rx="4.8" ry="6" transform="rotate(-20 600.3 407.4)"/>
<ellipse class="w" cx="600.5" cy="407.6" rx="2.7" ry="3.3" transform="rotate(-20 600.5 407.6)"/>
</g>
<path class="w" d="M591.6 463.4 L591.6 479 L598.6 479 L598.6 463.4 C597 461.6 593 461.6 591.6 463.4 Z"/>
<path class="p" d="M591.6 465.6 L598.6 465.6 M591.6 468 L598.6 468 M591.6 470.4 L598.6 470.4 M591.6 472.8 L598.6 472.8 M591.6 475.2 L598.6 475.2 M591.6 477.4 L598.6 477.4"/>
<path class="w" d="M585.4 553 C584.6 560 586 566 590.6 568 L597.4 567.4 C601 565 602 560 601.4 553 Z"/>
<ellipse class="w" cx="594.4" cy="559.6" rx="4.6" ry="5.4"/>
<ellipse class="w" cx="594.6" cy="559.8" rx="2.6" ry="3.2"/>
<path class="w" d="M584.9 538 L584.9 550 C587 554 602 554 604.7 550 L604.7 538 Z"/>
<path class="w" d="M582 478.4 L582 537 C585 542.6 604 542.6 607.3 537 L607.3 478.4 Z"/>
<ellipse class="w" cx="594.6" cy="478.4" rx="12.7" ry="4.4"/>
<ellipse class="w" cx="594.9" cy="479.6" rx="4.2" ry="1.6"/>
<path class="w" d="M591.6 472 L591.6 479.4 C593 480.6 597 480.6 598.6 479.4 L598.6 472"/>
<path class="p" d="M591.6 474.4 L598.6 474.4 M591.6 476.8 L598.6 476.8"/>
<line class="t" x1="584.4" y1="484" x2="584.4" y2="534"/>
<line class="p" x1="605.8" y1="545.1" x2="617.9" y2="542"/>
<line class="p" x1="575" y1="546.9" x2="577.2" y2="548.6"/>
<path class="w" d="M597.6 560.2 L606.6 565.6 L605.8 567.4 L596.8 562.2 Z"/>
<ellipse class="w" cx="611.6" cy="569.2" rx="3.6" ry="4" transform="rotate(20 611.6 569.2)"/>
<ellipse class="w" cx="612.4" cy="570" rx="2" ry="2.4" transform="rotate(20 612.4 570)"/>
<path class="p" d="M608.6 566.6 L611 572.6"/>
</g>
<!-- 61_rod170_low -->
<g>
<path class="w" d="M394.2 468 L394.2 496 C394.6 500 396 503 399 505 L407.6 502.6 C409 500 409.3 498 409.3 495 L409.3 468 Z"/>
<line class="t" x1="396.8" y1="469" x2="396.8" y2="497"/>
<path class="w" d="M393 457.6 L393 464.4 L395 467.6 L408.6 467.6 L410.5 464.4 L410.5 457.6 C406 455.6 397 455.6 393 457.6 Z"/>
<path class="p" d="M397.8 457 L397.8 467.6 M405.8 457 L405.8 467.6"/>
<g transform="translate(371.6 519.6) rotate(-14)">
<path class="w" d="M20.4 -6.6 A3 6.6 0 0 1 20.4 6.6 L17.4 6.6 A3 6.6 0 0 1 17.4 -6.6 Z"/>
<ellipse class="w" cx="17.4" cy="0" rx="3" ry="6.6"/>
<path class="w" d="M16.6 -5.4 A2.4 5.4 0 0 1 16.6 5.4 L13.6 5.4 A2.4 5.4 0 0 1 13.6 -5.4 Z"/>
<ellipse class="w" cx="13.6" cy="0" rx="2.4" ry="5.4"/>
<path class="w" d="M13 -4.2 A1.9 4.2 0 0 1 13 4.2 L0 4.2 A1.9 4.2 0 0 1 0 -4.2 Z"/>
<path class="p" d="M2.2 -4.2 A1.9 4.2 0 0 1 2.2 4.2"/>
<path class="p" d="M4.4 -4.2 A1.9 4.2 0 0 1 4.4 4.2"/>
<path class="p" d="M6.6 -4.2 A1.9 4.2 0 0 1 6.6 4.2"/>
<path class="p" d="M8.8 -4.2 A1.9 4.2 0 0 1 8.8 4.2"/>
<path class="p" d="M11 -4.2 A1.9 4.2 0 0 1 11 4.2"/>
<ellipse class="w" cx="0" cy="0" rx="1.9" ry="4.2"/>
</g>
<ellipse class="w" cx="404.6" cy="512.6" rx="8.2" ry="10.4" transform="rotate(-10 404.6 512.6)"/>
<ellipse class="w" cx="401.6" cy="513.2" rx="8.2" ry="10.4" transform="rotate(-10 401.6 513.2)"/>
<ellipse class="w" cx="398.6" cy="513.8" rx="7.6" ry="9.8" transform="rotate(-10 398.6 513.8)"/>
<ellipse class="w" cx="395.8" cy="514.4" rx="6.6" ry="8.8" transform="rotate(-10 395.8 514.4)"/>
<ellipse class="w" cx="393.8" cy="514.8" rx="4.4" ry="6.2" transform="rotate(-10 393.8 514.8)"/>
</g>
<!-- 70_bracket280 -->
<g>
<polygon class="w" points="300.5,553.7 317.8,560.9 317.8,575 300.5,566.5"/>
<polygon class="w" points="260.9,575.6 317.8,560.9 317.8,575 261.8,589.2"/>
<line class="t" x1="261.6" y1="576.7" x2="317.4" y2="562.2"/>
<ellipse class="w" cx="270.3" cy="580.7" rx="1.9" ry="2.1"/>
<circle class="d" cx="270.3" cy="580.7" r="0.9"/>
<ellipse class="w" cx="291" cy="575" rx="1.9" ry="2.1"/>
<circle class="d" cx="291" cy="575" r="0.9"/>
<circle class="d" cx="307.4" cy="561.3" r="1.1"/>
</g>
<!-- 71_axle -->
<g>
<path class="k" d="M419.2 462.7 C420.4 463.6 424.4 465.1 426.7 468 C428.9 470.9 431.4 476 432.5 480 C433.7 484 434 488 433.6 492 C433.2 496 431.9 500.8 429.9 504 C427.8 507.2 422.8 510.2 421.3 511.5"/>
<path class="p" d="M422.4 465.6 C423.3 467.1 426.6 471.4 427.7 474.7 C428.9 478 429.4 481.6 429.3 485.3 C429.2 489.1 428.4 493.7 427.2 497.3 C426 501 423.2 505.6 422.4 507.2"/>
<path class="p" d="M434.1 471.5 C434.9 472.8 437.9 476.7 438.9 479.5 C440 482.2 440.6 485.2 440.5 488 C440.4 490.8 439.6 494 438.4 496.5 C437.2 499.1 434.4 502.3 433.6 503.5"/>
<path class="p" d="M429.9 504 C430.5 503.9 433 503.6 433.6 503.5"/>
<path class="w" d="M431.5 463.5 L437.3 460.3 L440 466.7 L434.7 470.9 Z"/>
<ellipse class="w" cx="438.1" cy="463.2" rx="1.8" ry="3.2" transform="rotate(-25 438.1 463.2)"/>
<ellipse class="w" cx="441.1" cy="486.1" rx="1.6" ry="3.2"/>
<path class="p" d="M432.5 506.7 C432.4 508.2 431.3 513.3 431.5 516 C431.6 518.7 433.5 520.8 433.6 522.7 C433.7 524.6 431.6 526 432 527.5 C432.4 528.9 435.1 530.6 435.7 531.2"/>
<path class="k" d="M466.7 532 C466.7 530.5 465.9 525.6 466.7 523.2 C467.5 520.8 469.6 518.2 471.5 517.3 C473.3 516.4 476.1 516.9 477.9 517.9 C479.6 518.8 481 521.6 482.1 523.2 C483.3 524.8 483.6 527 484.8 527.5 C486 527.9 488.2 525.4 489.6 525.9 C491 526.3 492.1 529.6 493.3 530.1 C494.6 530.7 495.8 528.4 497.1 529.1 C498.3 529.7 499.7 532.7 500.8 533.9 C501.9 535 503 535.6 503.5 536"/>
<line class="k" x1="501.9" y1="536.5" x2="548.3" y2="560.5"/>
<line class="k" x1="493.3" y1="545.6" x2="548.3" y2="573.9"/>
<path class="k" d="M503.5 536 C502.7 536.4 499.8 537.1 498.7 538.1 C497.5 539.2 496.4 540.9 496.5 542.4 C496.6 543.9 498.8 546.4 499.2 547.2"/>
<path class="p" d="M507.7 539.2 C507.2 539.6 505.2 540.4 504.5 541.3 C503.8 542.3 503.4 543.8 503.5 545.1 C503.6 546.3 504.8 548.2 505.1 548.8"/>
<line class="k" x1="477.3" y1="584" x2="502.7" y2="596.3"/>
<path class="p" d="M451.2 583.5 C451.9 584.5 453.6 587.7 455.5 589.9 C457.3 592 461.2 595.2 462.4 596.3"/>
<path class="p" d="M422.4 584 C422.6 585.2 422.6 589 423.5 590.9 C424.4 592.9 427 594.9 427.7 595.7"/>
<path class="p" d="M425.6 583.5 C425.8 584.5 425.9 588.1 426.7 589.9 C427.5 591.6 429.8 593.4 430.4 594.1"/>
<path class="p" d="M431.5 584 C432.4 584.7 435.6 586.2 437.3 588.3 C439.1 590.3 442.5 595.1 442.1 596.3 C441.8 597.4 436.9 596.4 435.2 595.2 C433.5 594 432.5 590.3 432 589.3"/>
<path class="p" d="M436.3 584 C437 584.7 439.5 586.5 440.5 588.3 C441.6 590 442.3 593.6 442.7 594.7"/>
<path class="w" d="M419.7 544.5 C420.7 542.4 423.3 540.4 426.7 539.2 C430 538 435.1 537.5 440 537.1 C444.9 536.6 451 536.3 456 536.5 C461 536.8 466 537.2 469.9 538.7 C473.7 540.2 476 542.9 478.9 545.6 C481.9 548.3 486.1 551.7 487.5 554.7 C488.8 557.6 488.2 561 486.9 563.2 C485.7 565.4 482.8 566.3 480 568 C477.2 569.7 472.5 571.6 469.9 573.3 C467.2 575.1 466.8 578.5 464 578.7 C461.2 578.8 457.3 575.3 453.3 574.4 C449.3 573.5 444 574.1 440 573.3 C436 572.5 432.2 571.7 429.3 569.6 C426.5 567.5 424.4 563.5 422.9 560.5 C421.5 557.6 421.3 554.7 420.8 552 C420.3 549.3 418.8 546.7 419.7 544.5 Z" stroke-dasharray="3.2 1.4"/>
<ellipse class="p" cx="447.5" cy="554.1" rx="19.6" ry="11" transform="rotate(-3 447.5 554.1)" stroke-dasharray="4 1.2"/>
<ellipse class="p" cx="448" cy="554.7" rx="23.5" ry="13.6" transform="rotate(-3 448 554.7)" stroke-dasharray="2.2 1.6"/>
<ellipse class="p" cx="447.5" cy="553.6" rx="16.6" ry="8.6" transform="rotate(-3 447.5 553.6)"/>
<ellipse class="w" cx="472.5" cy="563.2" rx="3.4" ry="3.8"/>
<ellipse class="p" cx="472.5" cy="563.2" rx="1.6" ry="1.9"/>
<ellipse class="w" cx="479.5" cy="556.3" rx="3.4" ry="3.8"/>
<ellipse class="p" cx="479.5" cy="556.3" rx="1.6" ry="1.9"/>
<path class="p" d="M466.7 565.3 C467.2 566 468.1 569.1 469.9 569.6 C471.6 570.1 474.8 570.1 477.3 568.5 C479.9 566.9 484.2 562.6 485.3 560 C486.5 557.4 485.3 554.5 484.3 553.1 C483.2 551.6 479.8 551.7 478.9 551.5"/>
<circle class="d" cx="442.7" cy="548.8" r="0.8"/>
<circle class="d" cx="459.2" cy="555.7" r="0.8"/>
<circle class="d" cx="448" cy="554.7" r="0.8"/>
<circle class="d" cx="434.1" cy="556.8" r="0.8"/>
<circle class="d" cx="448.5" cy="563.2" r="0.8"/>
<path class="p" d="M426.7 565.3 C426.8 566.5 429.6 569.8 430.9 570.1 C432.3 570.5 434.8 568.6 434.7 567.5 C434.5 566.3 431.2 563.6 429.9 563.2 C428.5 562.8 426.5 564.2 426.7 565.3 Z"/>
</g>
<!-- 79_sil210 -->
<g transform="translate(708.6 434.2) rotate(-9)">
<path class="w" d="M0 -17.4 L17.6 -17.1 C33.6 -15.7 33.6 15.7 17.6 17.1 L0 17.4 Z"/>
<path class="p" d="M19.8 -16.7 A7.2 16.7 0 0 1 19.8 16.7"/>
<path class="p" d="M12.8 -17.4 A8 17.4 0 0 1 12.8 17.4"/>
<path class="p" d="M9 -17.4 A8 17.4 0 0 1 9 17.4"/>
<ellipse class="w" cx="5.1" cy="0" rx="8" ry="17.4"/>
<ellipse class="w" cx="0" cy="0" rx="8" ry="17.4"/>
<path class="p" d="M0 -15 L4.8 -17.4 M1.5 -14.5 L6.7 -16.9 M3 -13.2 L8.5 -15.4 M4.2 -11.2 L10.1 -13 M5.3 -8.5 L11.4 -9.9 M6 -5.3 L12.3 -6.2 M6.4 -1.8 L12.7 -2.1 M6.4 1.8 L12.7 2.1 M6 5.3 L12.3 6.2 M5.3 8.5 L11.4 9.9 M4.2 11.2 L10.1 13 M3 13.2 L8.5 15.4 M1.5 14.5 L6.7 16.9 M-0 15 L4.8 17.4 M-1.5 14.5 L2.9 16.9 M-3 13.2 L1.1 15.4 M-3 -13.2 L1.1 -15.4 M-1.5 -14.5 L2.9 -16.9"/>
<ellipse class="w" cx="-0.4" cy="0" rx="6.4" ry="15"/>
<ellipse class="k" cx="0" cy="0" rx="8" ry="17.4" stroke-dasharray="1.6 1.3"/>
<path class="w" d="M-4.4 -4.6 L3.6 1.4 L2.6 3.6 L-5.0 -2.2 Z"/>
</g>
<!-- 80_valve210 -->
<g>
<polygon class="w" points="732.8,409.3 738.3,405 816.3,405 817.1,422.3 813.4,426.7 816.3,441.1 816.3,448.3 806.2,452.7 806.2,462.8 796.1,467.1 770.1,452.7 757.1,455.6 742.7,452.7 738.3,446.9 732.8,433.9"/>
<polygon class="w" points="733.3,373.3 736.1,371.1 740,371.7 741.7,373.9 753.9,370 758.3,367.2 767.2,366.1 771.7,365 773.9,361.7 778.3,360 782.8,361.4 787.2,365 791.7,367.2 793.9,371.7 798.3,376.1 802.8,378.9 807.8,381.7 808.1,403.9 811.7,404.1 811.9,408.3 769.4,420.6 751.7,415.6 745,412.8 741.7,401.7 733.3,403.9"/>
<path class="k" d="M741.7 374.1 C742.6 373.7 745.1 372.3 747.2 371.7 C749.3 371 752.3 370.8 754.1 370.1 C756 369.4 756.1 368.1 758.3 367.4 C760.5 366.8 765 366.4 767.2 366.1 C769.4 365.8 770.4 365.5 771.7 365.7 C773 365.9 773.1 367.1 775 367.2 C776.9 367.3 780.2 366.1 782.8 366.1 C785.4 366.1 789.3 367.2 790.6 367.4"/>
<path class="p" d="M740.6 377.2 C741.5 377.1 744.1 377.3 746.1 376.8 C748.1 376.2 750.6 374.6 752.8 373.9 C755 373.2 757.2 373.5 759.4 372.8 C761.7 372 763.7 370 766.1 369.4 C768.5 368.9 771.5 369.6 773.9 369.4 C776.3 369.3 778.1 368.4 780.6 368.3 C783 368.3 786.3 368.7 788.3 369.2 C790.4 369.8 792 371.3 792.8 371.7"/>
<path class="k" d="M746.1 381.7 C747.2 381.3 750.7 380.4 752.8 379.7 C754.8 378.9 755.9 377.7 758.3 377.2 C760.7 376.8 764.6 377.6 767.2 377 C769.8 376.4 771.7 374.3 773.9 373.9 C776.1 373.5 778.3 374.7 780.6 374.6 C782.8 374.4 785 372.9 787.2 372.8 C789.4 372.7 792.8 373.7 793.9 373.9"/>
<path class="k" d="M747.2 386.3 C749.1 386 755.4 384.3 758.3 384.1 C761.3 383.9 762.8 385.4 765 385 C767.2 384.6 769.1 382.3 771.7 381.7 C774.3 381.1 778 381.9 780.6 381.4 C783.1 381 784.6 379.3 787.2 378.8 C789.8 378.3 793.7 378.2 796.1 378.3 C798.5 378.5 800.7 379.4 801.7 379.7"/>
<path class="k" d="M745 390.8 C747.2 390.4 754.6 388.9 758.3 388.3 C762 387.8 764.3 388 767.2 387.4 C770.2 386.9 772.8 385.6 776.1 385 C779.4 384.4 783 384.3 787.2 383.7 C791.5 383 798.2 381.5 801.7 381.2 C805.1 380.9 806.8 381.8 807.8 381.9"/>
<line class="p" x1="747.8" y1="378.9" x2="747.8" y2="387.2"/>
<line class="p" x1="752.2" y1="378.6" x2="752.2" y2="386.3"/>
<line class="p" x1="758.3" y1="377.8" x2="758.3" y2="384.1"/>
<line class="p" x1="763.3" y1="377.2" x2="763.3" y2="384.1"/>
<line class="p" x1="772.2" y1="374.4" x2="772.2" y2="381.2"/>
<line class="p" x1="777.2" y1="374.1" x2="777.2" y2="380.8"/>
<line class="p" x1="782.8" y1="371.7" x2="782.8" y2="380.1"/>
<line class="p" x1="787.2" y1="370.6" x2="787.2" y2="378.6"/>
<line class="p" x1="791.7" y1="371.7" x2="791.7" y2="377.8"/>
<line class="p" x1="755" y1="382.8" x2="755" y2="386.1"/>
<line class="p" x1="760.6" y1="380.6" x2="760.6" y2="384.1"/>
<ellipse class="w" cx="778.1" cy="361.9" rx="4.2" ry="2.2"/>
<ellipse class="w" cx="778.1" cy="361.4" rx="2.4" ry="1.2"/>
<ellipse class="w" cx="736.6" cy="372.6" rx="3.4" ry="1.8"/>
<ellipse class="w" cx="750" cy="378.6" rx="2.6" ry="1.4"/>
<ellipse class="w" cx="758.3" cy="384.1" rx="2.6" ry="1.4"/>
<ellipse class="k" cx="790.6" cy="374.8" rx="2.8" ry="1.6"/>
<ellipse class="w" cx="804.6" cy="381.7" rx="3.2" ry="1.8"/>
<path class="k" d="M755 369.4 C755.9 369 758.7 367.5 760.6 367 C762.4 366.5 765.2 366.6 766.1 366.6"/>
<polyline class="p" points="733.3,373.3 733.3,403.9 741.7,401.7"/>
<polyline class="p" points="741.7,374.1 745,390.8 745,412.8"/>
<line class="k" x1="745" y1="390.8" x2="745" y2="412.8"/>
<line class="p" x1="751.1" y1="393.9" x2="751.1" y2="414.4"/>
<line class="k" x1="761.7" y1="391.7" x2="761.7" y2="415"/>
<line class="p" x1="767.8" y1="393.3" x2="767.8" y2="413.9"/>
<line class="p" x1="772.8" y1="390.8" x2="772.8" y2="413"/>
<line class="p" x1="778.3" y1="390.6" x2="778.3" y2="411.7"/>
<line class="p" x1="785" y1="387.8" x2="785" y2="409.4"/>
<line class="k" x1="790.6" y1="386.7" x2="790.6" y2="407.8"/>
<line class="p" x1="801.7" y1="381.7" x2="801.7" y2="405"/>
<line class="k" x1="807.8" y1="381.9" x2="807.8" y2="403.9"/>
<ellipse class="w" cx="764.7" cy="391.7" rx="3" ry="1.6"/>
<ellipse class="w" cx="776.1" cy="388.3" rx="3" ry="1.6"/>
<ellipse class="w" cx="804.4" cy="382.2" rx="3" ry="1.6"/>
<polyline class="k" points="745,412.8 751.7,415.6 769.4,420.6"/>
<polyline class="k" points="751.7,415.6 773.9,412.8 807.8,404.1 811.7,403.9"/>
<polyline class="k" points="769.4,420.6 811.9,408.6 811.7,403.9"/>
<ellipse class="w" cx="773.9" cy="413.7" rx="2.6" ry="1.6"/>
<ellipse class="w" cx="809.4" cy="403.9" rx="2.8" ry="1.8"/>
<ellipse class="w" cx="738.1" cy="390.3" rx="5" ry="7.2" transform="rotate(-10 738.1 390.3)"/>
<ellipse class="w" cx="736.1" cy="390.8" rx="5" ry="7.2" transform="rotate(-10 736.1 390.8)"/>
<path class="p" d="M733.9 388.3 C734.3 388.9 735.8 390.4 736.1 391.7 C736.4 393 735.7 395.4 735.7 396.1"/>
<polyline class="p" points="735,397.8 735,403.9 739.4,403.9 739.4,408.3 733.3,407.2 733.3,412.8 741.7,415"/>
<polyline class="k" points="732.8,409.3 732.8,433.9 738.3,446.9 742.7,452.7"/>
<polyline class="p" points="738.3,405 738.3,422.3 745.6,426.7 745.6,413.7 738.3,410.8"/>
<polyline class="p" points="751.3,415.1 751.3,431 767.2,428.1 767.2,419.4"/>
<polyline class="k" points="751.3,422.3 767.2,419.4 814.9,407.9"/>
<polyline class="k" points="767.2,423.8 815.6,413.7"/>
<polyline class="p" points="767.2,419.4 767.2,438.2"/>
<polyline class="p" points="788.9,420.9 788.9,438.2 801.9,435.3 801.9,418"/>
<polyline class="p" points="751.3,431 755.7,436.8 767.2,438.2 773,441.1"/>
<polyline class="k" points="813.4,415.1 813.4,441.1 816.3,441.1 816.3,448.3 806.2,452.7 806.2,462.8 796.1,467.1"/>
<polyline class="p" points="799,446.2 816.3,441.8"/>
<polyline class="p" points="799,452.7 799,446.2 788.9,439.7"/>
<polyline class="p" points="781.7,423.8 781.7,439.7"/>
<polyline class="p" points="736.9,415.1 742.7,413.7 742.7,420.9 736.9,422.3 736.9,428.1 744.1,431"/>
<ellipse class="w" cx="738.3" cy="426.7" rx="1.8" ry="2.4"/>
<ellipse class="w" cx="815.2" cy="419.7" rx="2.6" ry="6" transform="rotate(-8 815.2 419.7)"/>
<ellipse class="w" cx="794.7" cy="444" rx="6.4" ry="3.6" transform="rotate(-10 794.7 444)"/>
<path class="k" d="M787.4 444 C788.6 443.5 792.3 440.9 794.7 441.1 C797.1 441.4 800.7 444.7 801.9 445.4"/>
<ellipse class="w" cx="774.3" cy="429.6" rx="4.4" ry="5.4" transform="rotate(-10 774.3 429.6)"/>
<polygon class="w" points="781.1,431.3 778.2,435.3 773.7,434.4 772.1,429.5 775,425.5 779.6,426.4"/>
<ellipse class="w" cx="776.9" cy="430.7" rx="2.6" ry="3"/>
<ellipse class="w" cx="806.8" cy="427.2" rx="4.4" ry="5.4" transform="rotate(-10 806.8 427.2)"/>
<polygon class="w" points="813.6,429 810.7,433 806.2,432.1 804.6,427.2 807.5,423.2 812.1,424.1"/>
<ellipse class="w" cx="809.4" cy="428.4" rx="2.6" ry="3"/>
<path class="w" d="M739.1 434.6 L752.8 432.4 L754.2 444 L739.8 446.6 Z"/>
<ellipse class="w" cx="750.6" cy="438.5" rx="4" ry="6.2" transform="rotate(-8 750.6 438.5)"/>
<ellipse class="p" cx="745.6" cy="439.4" rx="4.4" ry="6.2" transform="rotate(-8 745.6 439.4)"/>
<ellipse class="w" cx="739.1" cy="440.5" rx="5" ry="6.2" transform="rotate(-8 739.1 440.5)"/>
<ellipse class="w" cx="739.1" cy="440.7" rx="2.6" ry="3.4" transform="rotate(-8 739.1 440.7)"/>
<path class="t" d="M739.1 448.3 L739.1 457 C742.7 461.6 752.8 461.6 755.7 457 L755.7 452.7"/>
<polyline class="p" points="747,448.3 757.1,446.9 757.1,452.7 749.9,454.1"/>
<polygon class="w" points="758.6,459.6 773,442.8 781.7,441.1 788.9,448.3 801.9,461.6 789.2,479 775.9,471.7 762.9,468.6"/>
<polyline class="p" points="773,442.8 787.4,452.7 801.9,461.6"/>
<polyline class="p" points="787.4,452.7 775.9,471.7"/>
<polyline class="p" points="758.6,459.6 773,465.7 775.9,471.7"/>
<polyline class="p" points="764.3,454.1 780.2,446.9"/>
<ellipse class="w" cx="786" cy="464.2" rx="4.8" ry="5.4"/>
<ellipse class="w" cx="786" cy="464.4" rx="2.6" ry="3"/>
<ellipse class="w" cx="798.4" cy="461.9" rx="2.8" ry="3.6" transform="rotate(-30 798.4 461.9)"/>
<ellipse class="w" cx="773.4" cy="467.1" rx="2.6" ry="3.6" transform="rotate(-30 773.4 467.1)"/>
<polyline class="p" points="767.2,464.2 773,465.4"/>
</g>
<!-- 81_sil212 -->
<g transform="translate(720.8 502.4) rotate(-13)">
<path class="w" d="M22 -7 L30.6 -6.8 A3 7 0 0 1 30.6 7.2 L22 7.4 Z"/>
<ellipse class="w" cx="30.6" cy="0.2" rx="2.9" ry="7"/>
<path class="p" d="M26.6 -7 A3 7 0 0 1 26.6 7.2"/>
<path class="w" d="M0 -18.6 L14.3 -18.2 C27.3 -16.7 27.3 16.7 14.3 18.2 L0 18.6 Z"/>
<path class="p" d="M16.1 -17.9 A7.7 17.9 0 0 1 16.1 17.9"/>
<path class="p" d="M10.4 -18.6 A8.6 18.6 0 0 1 10.4 18.6"/>
<path class="p" d="M7.3 -18.6 A8.6 18.6 0 0 1 7.3 18.6"/>
<ellipse class="w" cx="4.2" cy="0" rx="8.6" ry="18.6"/>
<ellipse class="w" cx="0" cy="0" rx="8.6" ry="18.6"/>
<path class="p" d="M0 -16 L3.9 -18.6 M1.6 -15.5 L6 -18.1 M3.2 -14.2 L7.9 -16.5 M4.6 -12 L9.6 -13.9 M5.7 -9.1 L11 -10.6 M6.4 -5.7 L11.9 -6.6 M6.8 -1.9 L12.4 -2.2 M6.8 1.9 L12.4 2.2 M6.4 5.7 L11.9 6.6 M5.7 9.1 L11 10.6 M4.6 12 L9.6 13.9 M3.2 14.2 L7.9 16.5 M1.6 15.5 L6 18.1 M-0 16 L3.9 18.6 M-1.6 15.5 L1.8 18.1 M-3.2 14.2 L-0.1 16.5 M-3.2 -14.2 L-0.1 -16.5 M-1.6 -15.5 L1.8 -18.1"/>
<ellipse class="w" cx="-0.4" cy="0" rx="6.9" ry="16"/>
<ellipse class="k" cx="0" cy="0" rx="8.6" ry="18.6" stroke-dasharray="1.6 1.3"/>
</g>
<g id="labels">
<line x1="84" y1="611.5" x2="860.4" y2="611.5" stroke="#3c3c3c" stroke-width="1"/>
<line x1="84" y1="611.3" x2="113.4" y2="611.3" stroke="#333" stroke-width="1.5"/>
<line x1="501" y1="611.3" x2="860.6" y2="611.3" stroke="#333" stroke-width="1.5"/>
<text transform="translate(700.2 111.1) scale(0.9 1)">228</text>
<text transform="translate(609.2 141.8) scale(0.9 1)">240</text>
<text transform="translate(779.5 186.7) scale(0.9 1)">226</text>
<text transform="translate(150.3 218.6) scale(0.9 1)">200</text>
<text transform="translate(119.1 257.5) scale(0.9 1)">180</text>
<text transform="translate(87.7 310.9) scale(0.9 1)">200</text>
<text transform="translate(266.9 278.9) scale(0.9 1)">160</text>
<text transform="translate(291.6 331.3) scale(0.9 1)">190</text>
<text transform="translate(163.0 360.3) scale(0.9 1)">193</text>
<text transform="translate(269.4 392.3) scale(0.9 1)">150</text>
<text transform="translate(329.3 399.1) scale(0.9 1)">190</text>
<text transform="translate(249.1 447.0) scale(0.9 1)">153</text>
<text transform="translate(391.3 269.8) scale(0.9 1)">270</text>
<text transform="translate(521.1 297.5) scale(0.9 1)">163</text>
<text transform="translate(616.3 280.9) scale(0.9 1)">246</text>
<text transform="translate(646.0 269.3) scale(0.9 1)">255</text>
<text transform="translate(682.9 259.3) scale(0.9 1)">264</text>
<text transform="translate(772.8 255.5) scale(0.9 1)">258</text>
<text transform="translate(726.1 288.2) scale(0.9 1)">261</text>
<text transform="translate(682.9 354.7) scale(0.9 1)">246</text>
<text transform="translate(730.6 348.0) scale(0.9 1)">252</text>
<text transform="translate(601.3 367.6) scale(0.9 1)">267</text>
<text transform="translate(803.6 370.1) scale(0.9 1)">210</text>
<text transform="translate(411.4 425.0) scale(0.9 1)" style="fill:#74740e">170</text>
<text transform="translate(468.6 430.4) scale(0.9 1)">243</text>
<text transform="translate(505.3 422.3) scale(0.9 1)">249</text>
<text transform="translate(559.6 439.9) scale(0.9 1)">224</text>
<text transform="translate(828.0 478.5) scale(0.9 1)">220</text>
<text transform="translate(611.7 506.9) scale(0.9 1)">218</text>
<text transform="translate(719.6 536.0) scale(0.9 1)">212</text>
<text transform="translate(543.2 524.8) scale(0.9 1)">270</text>
<text transform="translate(654.1 537.5) scale(0.9 1)">222</text>
<text transform="translate(240.7 539.1) scale(0.9 1)">283</text>
<text transform="translate(583.4 583.0) scale(0.9 1)">275</text>
<text transform="translate(656.3 595.1) scale(0.9 1)">269</text>
<text transform="translate(228.3 602.8) scale(0.9 1)">200</text>
<text transform="translate(272.8 600.0) scale(0.9 1)">280</text>
</g>

</svg>
</body>
</html>
